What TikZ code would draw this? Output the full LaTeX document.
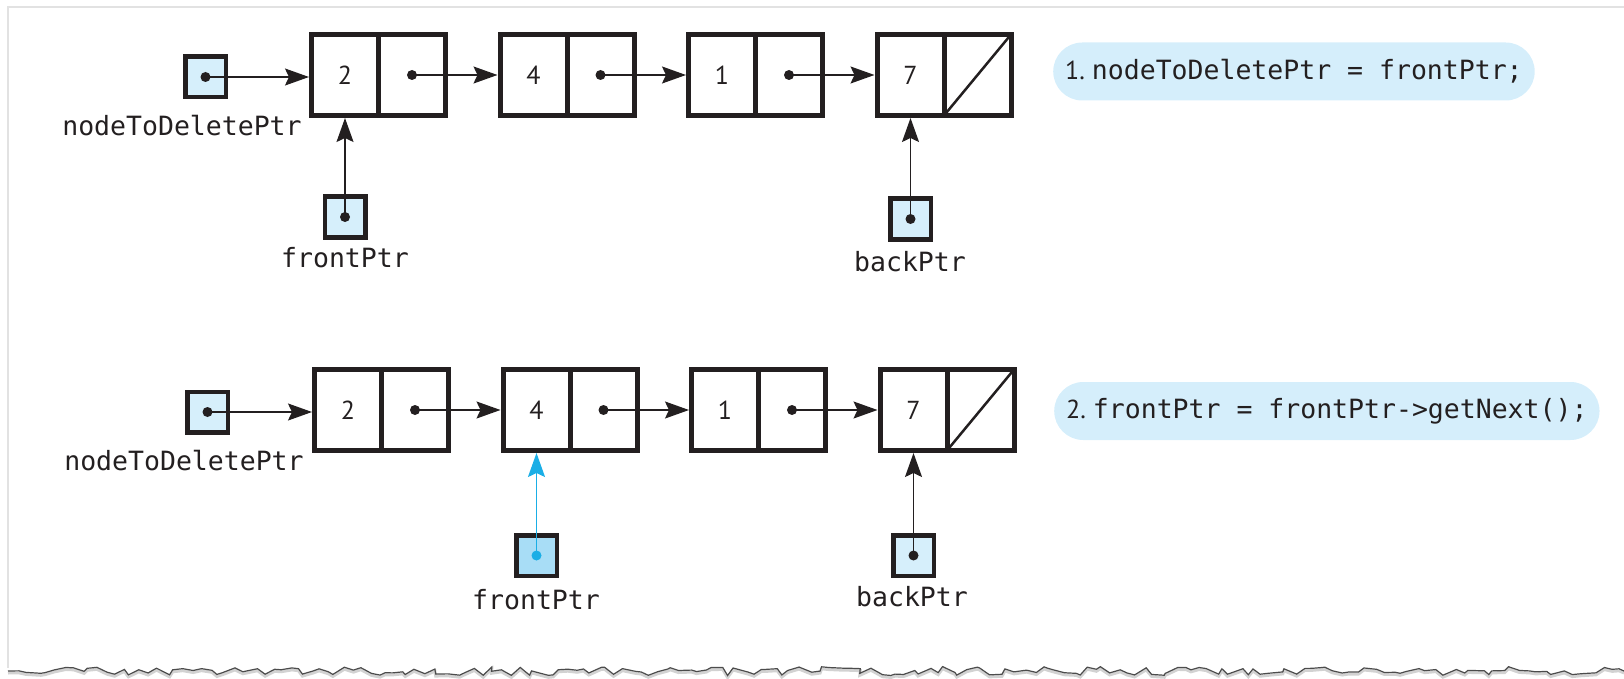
\documentclass[tikz,border=0pt]{standalone}
\usepackage{fontspec}
\setmonofont{DejaVu Sans Mono}
\newfontfamily\numfont{PT Sans}
\usetikzlibrary{positioning,arrows.meta,decorations.pathmorphing}
\definecolor{ink}{HTML}{231F20}
\definecolor{ptrfill}{HTML}{D6EFFB}
\definecolor{hifill}{HTML}{A8DDF6}
\definecolor{hiline}{HTML}{1AAEE6}
\definecolor{notefill}{HTML}{D5EEFB}
\definecolor{framegray}{HTML}{E2E2E2}
\begin{document}
\begin{tikzpicture}
            [x=1pt,y=-1pt,
             cell/.style ={draw=ink,line width=5pt,minimum width=67pt,minimum height=81pt,
                           inner sep=0pt,outer sep=0pt,text=ink,font=\numfont\fontsize{26}{30}\selectfont},
             ptr/.style ={draw=ink,fill=ptrfill,line width=4.5pt,minimum size=40.5pt,inner sep=0pt,outer sep=0pt},
             ptrname/.style ={inner sep=0pt,text=ink,font=\ttfamily\fontsize{26.5}{30}\selectfont},
             link/.style ={draw=ink,line width=1.5pt,shorten >=2.5pt,-{Stealth[length=24pt,width=17pt,inset=4pt]}},
             note/.style ={fill=notefill,rounded corners=29pt,minimum height=58pt,inner xsep=12pt,inner ysep=0pt,
                           anchor=west,text=ink,font=\ttfamily\fontsize{26.5}{30}\selectfont}]
            \useasboundingbox (0,0) rectangle (1624,679);
            % page frame with torn bottom edge
            \draw[framegray,line width=1.5pt] (8,668) -- (8,7) -- (1624,7);
            \pgfmathsetseed{11}
            \draw[gray!35,line width=3pt,decorate,decoration={random steps,segment length=8pt,amplitude=4.5pt}]
                (8,673) -- (1624,673);
            \pgfmathsetseed{11}
            \draw[black!70,line width=1.2pt,decorate,decoration={random steps,segment length=8pt,amplitude=4.5pt}]
                (8,671) -- (1624,671);

            % step 1
            \node[cell] (dA2) at (345,75) {2};
            \node[cell] (pA2) [right=0pt of dA2] {};
            \node[cell] (dA4) [right=54.5pt of pA2] {4};
            \node[cell] (pA4) [right=0pt of dA4] {};
            \node[cell] (dA1) [right=54.5pt of pA4] {1};
            \node[cell] (pA1) [right=0pt of dA1] {};
            \node[cell] (dA7) [right=54.5pt of pA1] {7};
            \node[cell] (pA7) [right=0pt of dA7] {};
            \draw[ink,line width=2.5pt] (pA7.south west) -- (pA7.north east);

            \node[ptr] (ndpA) at (205.5,77) {};
            \node[ptr] (frontA) at (345,217) {};
            \node[ptr] (backA) at (910.5,219) {};
            \node[ptrname] (ndpnameA) at (182,126) {nodeToDeletePtr};
            \node[ptrname] (frontnameA) at (345,258) {frontPtr};
            \node[ptrname] (backnameA) at (910,262) {backPtr};

            \draw[link] (ndpA.center) -- (ndpA.center -| dA2.west);
            \draw[link] (pA2.center) -- (dA4.west);
            \draw[link] (pA4.center) -- (dA1.west);
            \draw[link] (pA1.center) -- (dA7.west);
            \draw[link] (frontA.center) -- (dA2.south);
            \draw[link] (backA.center) -- (dA7.south);
            \foreach \p in {ndpA,frontA,backA,pA2,pA4,pA1}
                \fill[ink] (\p) circle (5pt);

            \node[note] (stepA) at (1053,71.5) {{\numfont\fontsize{26}{30}\selectfont 1.}\hspace{7pt}nodeToDeletePtr = frontPtr;};

            % step 2
            \node[cell] (dB2) at (348,410) {2};
            \node[cell] (pB2) [right=0pt of dB2] {};
            \node[cell] (dB4) [right=54.5pt of pB2] {4};
            \node[cell] (pB4) [right=0pt of dB4] {};
            \node[cell] (dB1) [right=54.5pt of pB4] {1};
            \node[cell] (pB1) [right=0pt of dB1] {};
            \node[cell] (dB7) [right=54.5pt of pB1] {7};
            \node[cell] (pB7) [right=0pt of dB7] {};
            \draw[ink,line width=2.5pt] (pB7.south west) -- (pB7.north east);

            \node[ptr] (ndpB) at (207.5,412) {};
            \node[ptr,fill=hifill] (frontB) at (536.5,555.5) {};
            \node[ptr] (backB) at (913.5,555.5) {};
            \node[ptrname] (ndpnameB) at (184,461) {nodeToDeletePtr};
            \node[ptrname] (frontnameB) at (536,600) {frontPtr};
            \node[ptrname] (backnameB) at (912,597) {backPtr};

            \draw[link] (ndpB.center) -- (ndpB.center -| dB2.west);
            \draw[link] (pB2.center) -- (dB4.west);
            \draw[link] (pB4.center) -- (dB1.west);
            \draw[link] (pB1.center) -- (dB7.west);
            \draw[link,draw=hiline] (frontB.center) -- (dB4.south);
            \draw[link] (backB.center) -- (dB7.south);
            \foreach \p in {ndpB,backB,pB2,pB4,pB1}
                \fill[ink] (\p) circle (5pt);
            \fill[hiline] (frontB) circle (5pt);

            \node[note] (stepB) at (1054,411) {{\numfont\fontsize{26}{30}\selectfont 2.}\hspace{7pt}frontPtr = frontPtr->getNext();};
\end{tikzpicture}
\end{document}
